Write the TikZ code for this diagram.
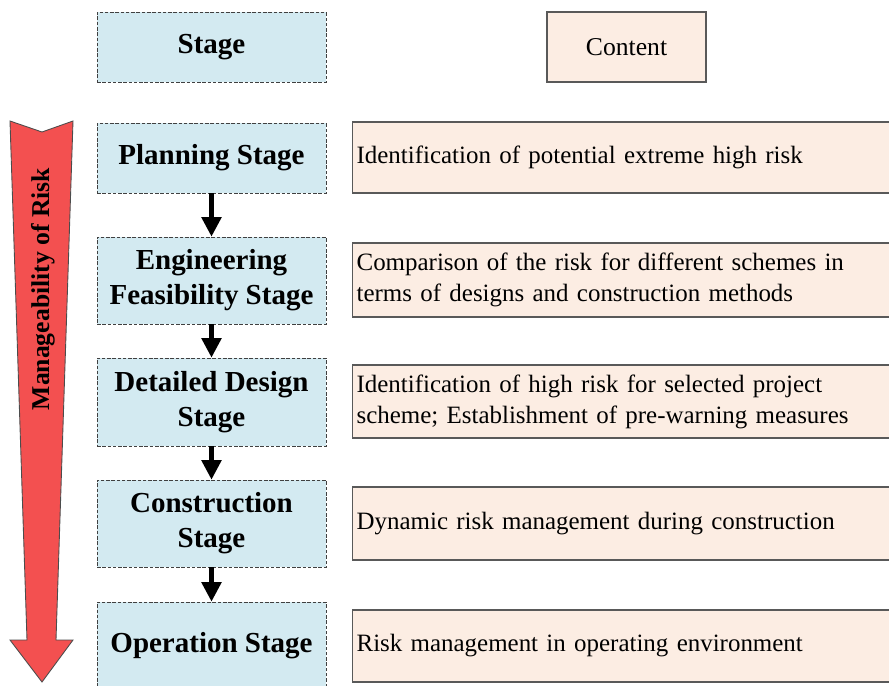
\documentclass[tikz,border=0pt]{standalone}
\usepackage{fontspec}
\setmainfont{Liberation Serif}
\usetikzlibrary{arrows.meta}
\definecolor{stageblue}{RGB}{211,234,241}
\definecolor{peach}{RGB}{252,237,227}
\definecolor{riskred}{RGB}{243,80,80}
\begin{document}
\begin{tikzpicture}
        [x=0.02cm,y=-0.02cm,
        stagebox/.style={draw=black!75,dash pattern=on 2pt off 1pt,fill=stageblue,line width=0.5pt,minimum width=4.58cm,align=center,font=\fontsize{16.5}{20}\selectfont\bfseries},
        contentbox/.style={draw=black!65,fill=peach,line width=0.7pt,anchor=west,text width=10.96cm,inner xsep=0.08cm,align=left,font=\fontsize{14.2}{17.6}\selectfont},
        flow/.style={-{Triangle[width=11pt,length=11pt]},line width=2.3pt}]

        \useasboundingbox (0,0) rectangle (889,686);
        \clip (0,0) rectangle (889,686);

        \filldraw[fill=riskred,draw=black!70,line width=0.5pt]
          (10,121) -- (42,132) -- (73,121) -- (56,640) -- (73,640) -- (42,682) -- (10,640) -- (27,640) -- cycle;
        \node[rotate=90,font=\fontsize{14.6}{17}\selectfont\bfseries] (risk) at (43,289) {Manageability of Risk};

        \node[stagebox,minimum height=1.4cm] (s0) at (211.5,47) {Stage};
        \node[stagebox,minimum height=1.4cm] (s1) at (211.5,158) {Planning Stage};
        \node[stagebox,minimum height=1.74cm] (s2) at (211.5,280.5) {Engineering\\Feasibility Stage};
        \node[stagebox,minimum height=1.76cm] (s3) at (211.5,402) {Detailed Design\\Stage};
        \node[stagebox,minimum height=1.74cm] (s4) at (211.5,523.5) {Construction\\Stage};
        \node[stagebox,minimum height=1.76cm] (s5) at (211.5,646) {Operation Stage};

        \node[draw=black!65,fill=peach,line width=0.7pt,minimum width=3.18cm,minimum height=1.4cm,font=\fontsize{14.6}{17.6}\selectfont] (c0) at (626.5,47) {Content};
        \node[contentbox,minimum height=1.42cm] (c1) at (352,157.5) {Identification of potential extreme high risk};
        \node[contentbox,minimum height=1.48cm] (c2) at (352,280) {Comparison of the risk for different schemes in\\terms of designs and construction methods};
        \node[contentbox,minimum height=1.46cm] (c3) at (352,401.5) {Identification of high risk for selected project\\scheme; Establishment of pre-warning measures};
        \node[contentbox,minimum height=1.46cm] (c4) at (352,523.5) {Dynamic risk management during construction};
        \node[contentbox,minimum height=1.44cm] (c5) at (352,646) {Risk management in operating environment};

        \draw[flow] (s1) -- (s2);
        \draw[flow] (s2) -- (s3);
        \draw[flow] (s3) -- (s4);
        \draw[flow] (s4) -- (s5);
      \end{tikzpicture}
\end{document}
